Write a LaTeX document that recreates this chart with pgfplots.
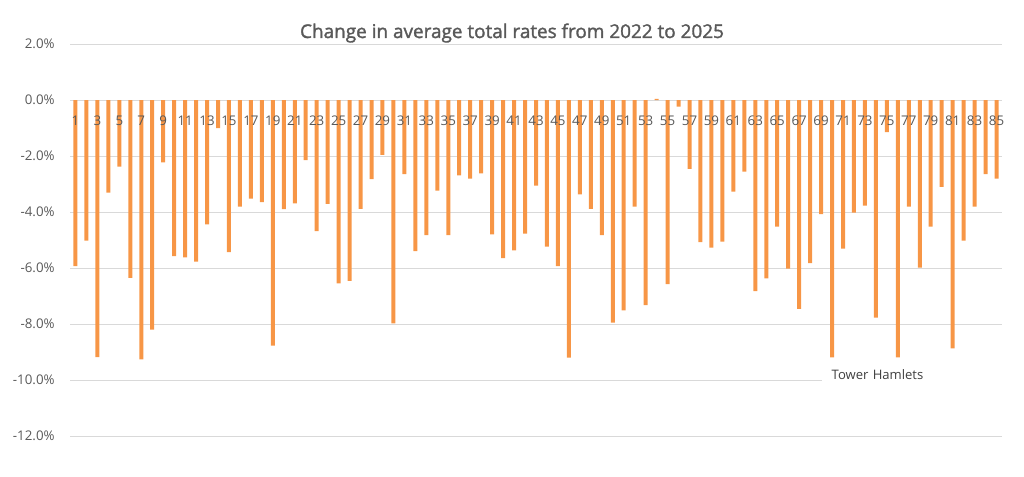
\documentclass[border=0pt]{standalone}
\usepackage{fontspec}
\setmainfont{Open Sans}
\usepackage{pgfplots}
\pgfplotsset{compat=1.18}
\usepackage{pgfplotstable}
\definecolor{barorange}{RGB}{247,150,70}
\definecolor{gridgray}{RGB}{217,217,217}
\definecolor{txtgray}{RGB}{89,89,89}
\definecolor{lblgray}{RGB}{64,64,64}
\pgfplotstableread{
x y
1 -5.93
2 -5.02
3 -9.18
4 -3.31
5 -2.38
6 -6.35
7 -9.26
8 -8.20
9 -2.23
10 -5.58
11 -5.62
12 -5.77
13 -4.44
14 -1.00
15 -5.43
16 -3.81
17 -3.52
18 -3.65
19 -8.77
20 -3.90
21 -3.69
22 -2.15
23 -4.68
24 -3.71
25 -6.55
26 -6.46
27 -3.89
28 -2.83
29 -1.96
30 -7.98
31 -2.65
32 -5.40
33 -4.83
34 -3.24
35 -4.83
36 -2.69
37 -2.81
38 -2.62
39 -4.80
40 -5.65
41 -5.37
42 -4.77
43 -3.06
44 -5.24
45 -5.93
46 -9.20
47 -3.37
48 -3.89
49 -4.83
50 -7.95
51 -7.51
52 -3.81
53 -7.33
54 0.04
55 -6.58
56 -0.24
57 -2.46
58 -5.08
59 -5.27
60 -5.06
61 -3.27
62 -2.56
63 -6.83
64 -6.37
65 -4.52
66 -6.02
67 -7.46
68 -5.83
69 -4.08
70 -9.19
71 -5.31
72 -4.02
73 -3.77
74 -7.77
75 -1.15
76 -9.19
77 -3.81
78 -5.99
79 -4.52
80 -3.10
81 -8.87
82 -5.02
83 -3.81
84 -2.65
85 -2.81
}\ratesdata
\begin{document}
\begin{tikzpicture}
\begin{axis}[
  set layers=standard,
  at={(0,0)}, anchor=south west,
  scale only axis,
  width=699pt, height=294pt,
  xmin=0.5, xmax=85.5,
  ymin=-12, ymax=2,
  axis x line=middle,
  axis y line=left,
  axis line style={draw=none},
  major tick length=0pt,
  clip=false,
  ytick={-12,-10,...,2},
  ymajorgrids,
  grid style={color=gridgray, line width=0.75pt},
  xtick={1,3,...,85},
  /pgf/number format/assume math mode=true,
  yticklabel={\pgfmathprintnumber[fixed,fixed zerofill,precision=1,assume math mode=true]{\tick}\%},
  xticklabel={\pgfmathprintnumber[assume math mode=true]{\tick}},
  tick label style={font=\fontsize{10}{12}\selectfont, text=txtgray},
  xticklabel style={anchor=north, inner sep=0pt, yshift=-12pt},
  yticklabel style={xshift=-8pt},
]
\addplot[ybar, bar width=3pt, fill=barorange, draw=none, on layer=axis ticks] table[x=x, y=y] {\ratesdata};
\node[fill=white, anchor=west, inner xsep=7.5pt, inner ysep=0pt, minimum height=20pt,
      text width=126pt, align=left, text=lblgray, font=\fontsize{9.8}{12}\selectfont]
  at (axis cs:69.03,-9.79) {Tower Hamlets};
\end{axis}
\node[anchor=base, text=txtgray, font=\fontsize{14.2}{16}\selectfont\addfontfeatures{FakeBold=1.6}] at (331.5pt,298.5pt) {Change in average total rates from 2022 to 2025};
\pgfresetboundingbox
\path (-52.5pt,-30pt) rectangle (715.5pt,327pt);
\end{tikzpicture}
\end{document}
